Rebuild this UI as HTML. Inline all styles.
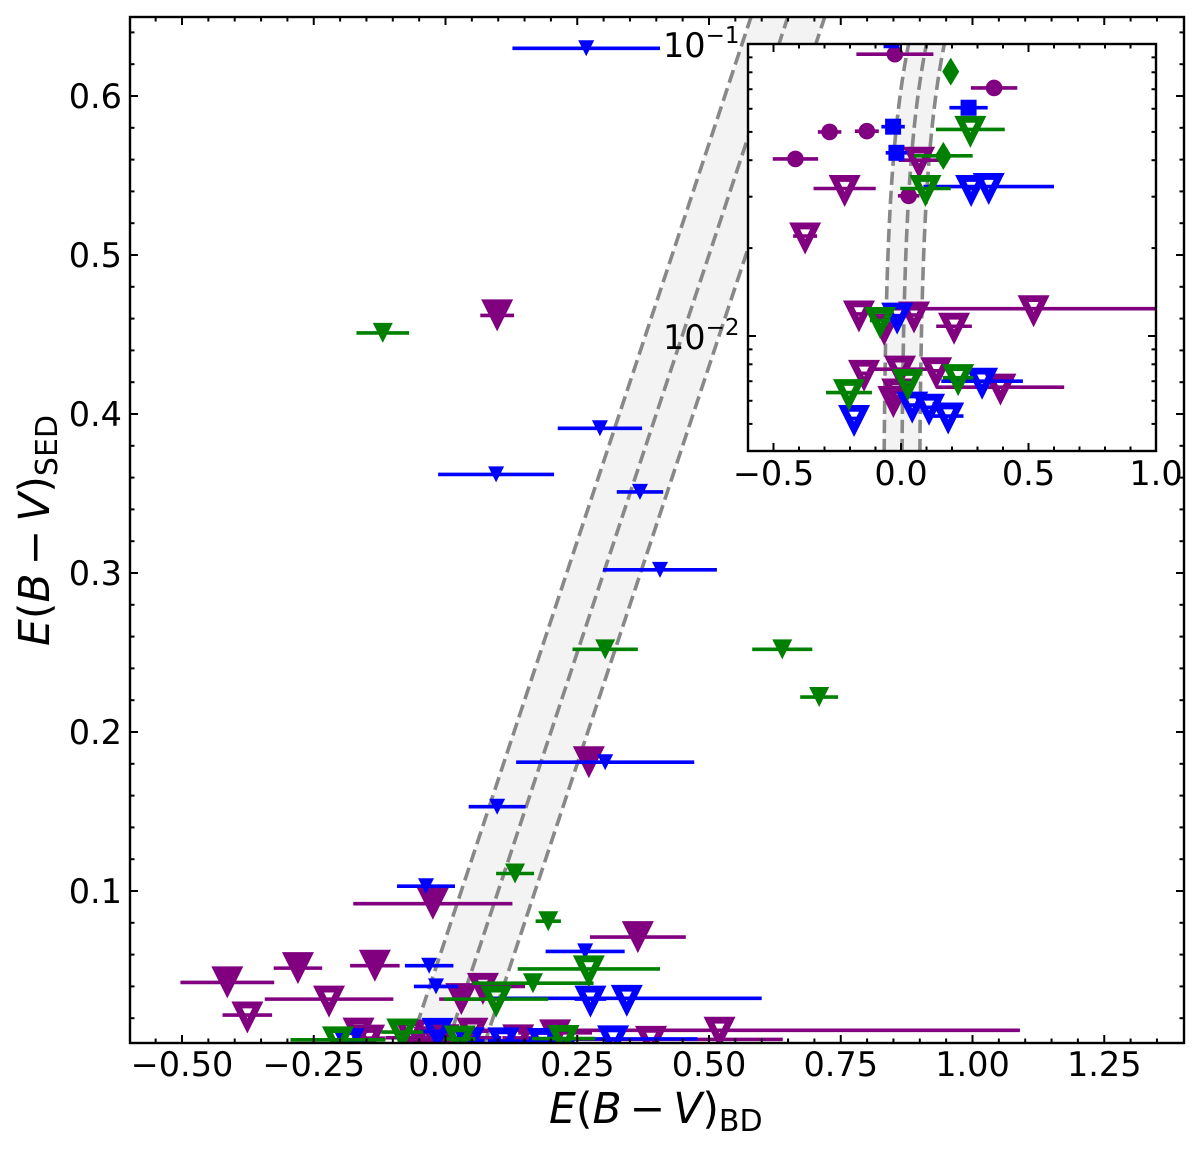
<!DOCTYPE html>
<html lang="en">
<head>
<meta charset="utf-8">
<title>E(B-V) SED vs BD</title>
<style>
html,body{margin:0;padding:0;background:#fff;}
svg{display:block;}
text{font-family:"DejaVu Sans","Liberation Sans",sans-serif;fill:#000;}
</style>
</head>
<body>
<svg id="chart" xmlns="http://www.w3.org/2000/svg" width="1200" height="1151" viewBox="0 0 1200 1151">
  <defs>
    <clipPath id="main-clip"><rect x="130" y="17" width="1054" height="1026"/></clipPath>
    <clipPath id="inset-clip"><rect x="748" y="44" width="408" height="407"/></clipPath>
  </defs>
  <rect width="1200" height="1151" fill="#fff"/>
  <g id="main-plot" clip-path="url(#main-clip)"></g>
  <g id="main-axes"></g>
  <rect x="748" y="44" width="408" height="407" fill="#fff"/>
  <g id="inset-plot" clip-path="url(#inset-clip)"></g>
  <g id="inset-axes"></g>

  <text x="549" y="1123" font-size="42.5"><tspan font-style="italic">E</tspan>(<tspan font-style="italic">B</tspan><tspan dx="8">−</tspan><tspan dx="8" font-style="italic">V</tspan>)<tspan dy="8" font-size="30">BD</tspan></text>
  <text transform="translate(49,646) rotate(-90)" x="0" y="0" font-size="42.5"><tspan font-style="italic">E</tspan>(<tspan font-style="italic">B</tspan><tspan dx="8">−</tspan><tspan dx="8" font-style="italic">V</tspan>)<tspan dy="8" font-size="30">SED</tspan></text>
</svg>
<script>
// ---- Purple series: upper limits (open) and measurements (filled)
const purpleOpenX = [-0.376, -0.221, 0.071, -0.165, -0.066, 0.051, 0.52, 0.208, -0.145, -0.004, 0.138, 0.39, -0.03, -0.015];
const purpleOpenY = [0.022, 0.032, 0.040, 0.0119, 0.0107, 0.0118, 0.0124, 0.0108, 0.00745, 0.0077, 0.0076, 0.00668, 0.00606, 0.00643];
const purpleOpenErr = [0.047, 0.122, 0.08, 0.03, 0.03, 0.03, 0.57, 0.07, 0.03, 0.11, 0.03, 0.25, 0.03, 0.03];
const purpleFilledX = [0.098, 0.272, -0.024, -0.414, -0.28, -0.134, 0.365, 0.03];
const purpleFilledY = [0.462, 0.181, 0.092, 0.0425, 0.0515, 0.053, 0.071, 0.032];
const purpleFilledInsetY = [0.462, 0.181, 0.0923, 0.0404, 0.05, 0.0503, 0.0707, 0.0302];
const purpleFilledErr = [0.032, 0.03, 0.151, 0.089, 0.046, 0.047, 0.091, 0.042];
// ---- Blue series
const blueOpenX = [0.275, 0.344, -0.015, 0.318, 0.044, 0.11, 0.185, -0.184];
const blueOpenY = [0.032, 0.0325, 0.0117, 0.0070, 0.0058, 0.0057, 0.00532, 0.00522];
const blueOpenErr = [0.03, 0.256, 0.03, 0.16, 0.03, 0.03, 0.06, 0.03];
const blueFilledX = [0.267, 0.293, 0.096, 0.369, 0.407, 0.303, 0.098, -0.037, -0.031, -0.018, 0.265];
const blueFilledY = [0.63, 0.391, 0.362, 0.351, 0.302, 0.181, 0.153, 0.103, 0.053, 0.04, 0.062];
const blueFilledInsetY = [0.63, 0.391, 0.362, 0.351, 0.302, 0.181, 0.153, 0.103, 0.0521, 0.0424, 0.0605];
const blueFilledErr = [0.14, 0.08, 0.11, 0.044, 0.108, 0.169, 0.054, 0.055, 0.046, 0.042, 0.075];
// ---- Green series
const greenOpenX = [0.272, 0.096, -0.082, 0.027, 0.224, -0.204];
const greenOpenY = [0.051, 0.032, 0.0113, 0.00693, 0.0072, 0.0064];
const greenOpenErr = [0.135, 0.099, 0.04, 0.03, 0.06, 0.09];
const greenFilledX = [-0.119, 0.303, 0.639, 0.709, 0.132, 0.195, 0.166];
const greenFilledY = [0.451, 0.252, 0.252, 0.222, 0.111, 0.081, 0.042];
const greenFilledInsetY = [0.451, 0.252, 0.252, 0.222, 0.111, 0.0804, 0.0414];
const greenFilledErr = [0.05, 0.062, 0.057, 0.036, 0.036, 0.024, 0.115];
// ---- Reference band and axis ticks
const bandOffset = [-0.07, 0, 0.07];
const mainXTicks = [-0.5, -0.25, 0, 0.25, 0.5, 0.75, 1, 1.25];
const mainXTickLabels = ['−0.50', '−0.25', '0.00', '0.25', '0.50', '0.75', '1.00', '1.25'];
const mainYTicks = [0.1, 0.2, 0.3, 0.4, 0.5, 0.6];
const mainYTickLabels = ['0.1', '0.2', '0.3', '0.4', '0.5', '0.6'];
const insetXTicks = [-0.5, 0, 0.5, 1];
const insetXTickLabels = ['−0.5', '0.0', '0.5', '1.0'];
const insetYMajor = [0.1, 0.01];
const insetYExponents = ['−1', '−2'];
const insetYMinor = [0.09, 0.08, 0.07, 0.06, 0.05, 0.04, 0.03, 0.02, 0.009, 0.008, 0.007, 0.006, 0.005, 0.004];

const NS = 'http://www.w3.org/2000/svg';
const PURPLE = '#800080', BLUE = '#0000ff', GREEN = '#008000';
const BAR_WIDTH = 3.6;
const LABEL_SIZE = 33.5;

// Axis functions
const mainX = v => 445.5 + 527 * v;
const mainY = v => 891 - (v - 0.1) * 1590;
const insetX = v => 901 + 255 * v;
const insetY = v => 336 - 292 * (Math.log10(v) + 2);

function create(tag, parent) {
  const el = document.createElementNS(NS, tag);
  parent.appendChild(el);
  return el;
}

function drawLine(parent, x1, y1, x2, y2, stroke, width, name) {
  const el = create('line', parent);
  el.setAttribute('x1', x1);
  el.setAttribute('y1', y1);
  el.setAttribute('x2', x2);
  el.setAttribute('y2', y2);
  el.setAttribute('stroke', stroke);
  el.setAttribute('stroke-width', width);
  
  
  return el;
}

function triangle(cx, cy, size) {
  const h = size / 2;
  return `M${cx - h} ${cy - h}L${cx + h} ${cy - h}L${cx} ${cy + h}Z`;
}

function drawTriangle(parent, cx, cyData, size, color, open, name) {
  const el = create('path', parent);
  // A stroked marker's mitred tip reaches further than its top edge
  const cy = open ? cyData + 2.5 : cyData;
  let d = triangle(cx, cy, size);
  if (open) {
    // Triangular hole scaled about the incentre of the outer triangle
    const inr = size * size / 2 / ((size + 2 * Math.hypot(size / 2, size)) / 2);
    const ic = cy - size / 2 + inr;
    const s = 0.31;
    const topY = ic - inr * s;
    const tipY = ic + (cy + size / 2 - ic) * s;
    const hw = size / 2 * s;
    d += `M${cx - hw} ${topY}L${cx + hw} ${topY}L${cx} ${tipY}Z`;
    el.setAttribute('fill-rule', 'evenodd');
  }
  el.setAttribute('d', d);
  el.setAttribute('fill', color);
  
  
}

function drawInsetShape(parent, shape, cx, cy, color, name) {
  let el;
  if (shape === 'circle') {
    el = create('circle', parent);
    el.setAttribute('cx', cx);
    el.setAttribute('cy', cy);
    el.setAttribute('r', 8.3);
  } else if (shape === 'square') {
    el = create('rect', parent);
    el.setAttribute('x', cx - 8);
    el.setAttribute('y', cy - 8);
    el.setAttribute('width', 16);
    el.setAttribute('height', 16);
  } else {
    el = create('path', parent);
    el.setAttribute('d', `M${cx} ${cy - 14}L${cx + 8.5} ${cy}L${cx} ${cy + 14}L${cx - 8.5} ${cy}Z`);
  }
  el.setAttribute('fill', color);
  
  
}

function drawBand(parent, xs, ys, prefix) {
  const yVals = [];
  const lo = Math.log10(0.004);
  const hi = prefix === 'inset' ? -0.98 : Math.log10(0.66);
  for (let i = 0; i <= 120; i++) yVals.push(Math.pow(10, lo + (hi - lo) * i / 120));
  const low = bandOffset[0], high = bandOffset[bandOffset.length - 1];
  const forward = yVals.map(v => xs(v + low).toFixed(2) + ',' + ys(v).toFixed(2));
  const back = yVals.slice().reverse().map(v => xs(v + high).toFixed(2) + ',' + ys(v).toFixed(2));
  const poly = create('polygon', parent);
  poly.setAttribute('points', forward.concat(back).join(' '));
  poly.setAttribute('fill', '#f3f3f3');
  
  
  bandOffset.forEach((off, i) => {
    const line = create('polyline', parent);
    line.setAttribute('points', yVals.map(v => xs(v + off).toFixed(2) + ',' + ys(v).toFixed(2)).join(' '));
    line.setAttribute('fill', 'none');
    line.setAttribute('stroke', '#888888');
    line.setAttribute('stroke-width', '3.6');
    line.setAttribute('stroke-dasharray', '13.3 5.8');
    
    
  });
}

function drawErrorBars(parent, xs, ys, xv, yv, ev, color, name) {
  xv.forEach((x, i) => {
    drawLine(parent, xs(x - ev[i]), ys(yv[i]), xs(x + ev[i]), ys(yv[i]), color, BAR_WIDTH, name + '-error-bar');
  });
}

function drawMainSeries(parent, xv, yv, ev, color, size, open, name) {
  drawErrorBars(parent, mainX, mainY, xv, yv, ev, color, name);
  xv.forEach((x, i) => {
    drawTriangle(parent, mainX(x), mainY(yv[i]), size, color, open, name + '-marker');
  });
}

function drawInsetOpen(parent, xv, yv, ev, color, name) {
  drawErrorBars(parent, insetX, insetY, xv, yv, ev, color, name);
  xv.forEach((x, i) => {
    drawTriangle(parent, insetX(x), insetY(yv[i]), 32, color, true, name + '-marker');
  });
}

function drawInsetFilled(parent, xv, yv, ev, color, shape, name) {
  drawErrorBars(parent, insetX, insetY, xv, yv, ev, color, name);
  xv.forEach((x, i) => {
    drawInsetShape(parent, shape, insetX(x), insetY(yv[i]), color, name + '-marker');
  });
}

function drawText(parent, x, y, str, anchor, size, name) {
  const t = create('text', parent);
  t.setAttribute('x', x);
  t.setAttribute('y', y);
  t.setAttribute('text-anchor', anchor);
  t.setAttribute('font-size', size);
  t.textContent = str;
  
  
  return t;
}

function drawFrame(parent, x, y, w, h, name) {
  const r = create('rect', parent);
  r.setAttribute('x', x);
  r.setAttribute('y', y);
  r.setAttribute('width', w);
  r.setAttribute('height', h);
  r.setAttribute('fill', 'none');
  r.setAttribute('stroke', '#000');
  r.setAttribute('stroke-width', 2.4);
  
  
}

// ---- Main panel
const mainPlot = document.getElementById('main-plot');
drawBand(mainPlot, mainX, mainY, 'main');
drawMainSeries(mainPlot, purpleOpenX, purpleOpenY, purpleOpenErr, PURPLE, 32, true, 'purple-open');
drawMainSeries(mainPlot, purpleFilledX, purpleFilledY, purpleFilledErr, PURPLE, 32, false, 'purple-filled');
drawMainSeries(mainPlot, blueOpenX, blueOpenY, blueOpenErr, BLUE, 32, true, 'blue-open');
drawMainSeries(mainPlot, blueFilledX, blueFilledY, blueFilledErr, BLUE, 16, false, 'blue-filled');
drawMainSeries(mainPlot, greenOpenX, greenOpenY, greenOpenErr, GREEN, 32, true, 'green-open');
drawMainSeries(mainPlot, greenFilledX, greenFilledY, greenFilledErr, GREEN, 20, false, 'green-filled');

const mainAxes = document.getElementById('main-axes');
const MT = 8, mt = 4.5;
for (let k = -11; k <= 27; k++) {
  const v = k * 0.05;
  const px = mainX(v);
  if (px < 131 || px > 1183) continue;
  const len = k % 5 === 0 ? MT : mt;
  drawLine(mainAxes, px, 1043, px, 1043 - len, '#000', 2, 'main-x-tick-bottom');
  drawLine(mainAxes, px, 17, px, 17 + len, '#000', 2, 'main-x-tick-top');
}
for (let k = 1; k <= 32; k++) {
  const v = k * 0.02;
  const py = mainY(v);
  if (py < 18 || py > 1042) continue;
  const len = k % 5 === 0 ? MT : mt;
  drawLine(mainAxes, 130, py, 130 + len, py, '#000', 2, 'main-y-tick-left');
  drawLine(mainAxes, 1184, py, 1184 - len, py, '#000', 2, 'main-y-tick-right');
}
drawFrame(mainAxes, 130, 17, 1054, 1026, 'main-frame');
mainXTicks.forEach((v, i) => {
  drawText(mainAxes, mainX(v), 1076, mainXTickLabels[i], 'middle', LABEL_SIZE, 'main-x-tick-label');
});
mainYTicks.forEach((v, i) => {
  drawText(mainAxes, 122, mainY(v) + 12, mainYTickLabels[i], 'end', LABEL_SIZE, 'main-y-tick-label');
});

// ---- Inset panel
const insetPlot = document.getElementById('inset-plot');
drawBand(insetPlot, insetX, insetY, 'inset');
drawInsetOpen(insetPlot, purpleOpenX, purpleOpenY, purpleOpenErr, PURPLE, 'inset-purple-open');
drawInsetFilled(insetPlot, purpleFilledX, purpleFilledInsetY, purpleFilledErr, PURPLE, 'circle', 'inset-purple-circle');
drawInsetOpen(insetPlot, blueOpenX, blueOpenY, blueOpenErr, BLUE, 'inset-blue-open');
drawInsetFilled(insetPlot, blueFilledX, blueFilledInsetY, blueFilledErr, BLUE, 'square', 'inset-blue-square');
drawInsetOpen(insetPlot, greenOpenX, greenOpenY, greenOpenErr, GREEN, 'inset-green-open');
drawInsetFilled(insetPlot, greenFilledX, greenFilledInsetY, greenFilledErr, GREEN, 'diamond', 'inset-green-diamond');

const insetAxes = document.getElementById('inset-axes');
for (let k = -5; k <= 10; k++) {
  const v = k * 0.1;
  const px = insetX(v);
  const len = k % 5 === 0 ? MT : mt;
  drawLine(insetAxes, px, 451, px, 451 - len, '#000', 2, 'inset-x-tick-bottom');
  drawLine(insetAxes, px, 44, px, 44 + len, '#000', 2, 'inset-x-tick-top');
}
insetYMajor.forEach(v => {
  const py = insetY(v);
  drawLine(insetAxes, 748, py, 748 + MT, py, '#000', 2, 'inset-y-major-tick-left');
  drawLine(insetAxes, 1156, py, 1156 - MT, py, '#000', 2, 'inset-y-major-tick-right');
});
insetYMinor.forEach(v => {
  const py = insetY(v);
  if (py > 450) return;
  drawLine(insetAxes, 748, py, 748 + mt, py, '#000', 2, 'inset-y-minor-tick-left');
  drawLine(insetAxes, 1156, py, 1156 - mt, py, '#000', 2, 'inset-y-minor-tick-right');
});
drawFrame(insetAxes, 748, 44, 408, 407, 'inset-frame');
insetXTicks.forEach((v, i) => {
  drawText(insetAxes, insetX(v), 485, insetXTickLabels[i], 'middle', LABEL_SIZE, 'inset-x-tick-label');
});
insetYMajor.forEach((v, i) => {
  const py = insetY(v);
  const t = drawText(insetAxes, 739.5, py + 13, '10', 'end', LABEL_SIZE, 'inset-y-tick-label');
  const sup = create('tspan', t);
  sup.setAttribute('dy', -14);
  sup.setAttribute('font-size', 23);
  sup.textContent = insetYExponents[i];
  
  
});
</script>
</body>
</html>
